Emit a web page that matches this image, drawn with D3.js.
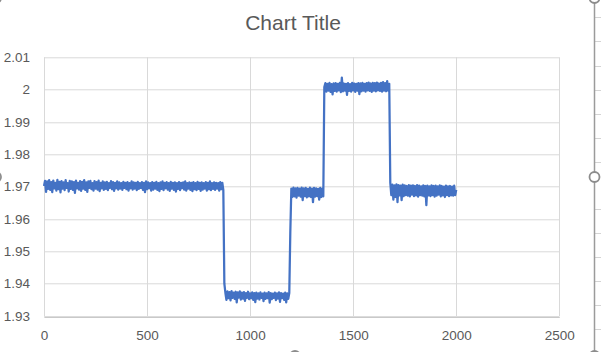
<!DOCTYPE html>
<html>
<head>
<meta charset="utf-8">
<script src="https://cdn.jsdelivr.net/npm/d3@7"></script>
<style>
  body { margin: 0; background: #fff; }
  svg { display: block; font-family: "Liberation Sans", Arial, sans-serif; }
</style>
</head>
<body>
<svg id="chart" width="601" height="352"></svg>
<script>
// readings, sampled every 5 units along x
const sampleStep = 5;
const segmentStart = [0, 875, 1195, 1360, 1680];

const firstPlateau = [
  1.9702,1.9718,1.9684,1.9716,1.9693,1.9720,1.9690,1.9714,1.9683,1.9719,
  1.9695,1.9712,1.9688,1.9721,1.9692,1.9715,1.9682,1.9717,1.9694,1.9713,
  1.9689,1.9720,1.9696,1.9711,1.9685,1.9718,1.9693,1.9716,1.9690,1.9714,
  1.9681,1.9719,1.9695,1.9712,1.9691,1.9717,1.9687,1.9715,1.9694,1.9720,
  1.9690,1.9713,1.9684,1.9716,1.9696,1.9718,1.9692,1.9711,1.9688,1.9717,
  1.9694,1.9714,1.9691,1.9719,1.9686,1.9712,1.9695,1.9716,1.9690,1.9713,
  1.9693,1.9715,1.9689,1.9711,1.9696,1.9717,1.9692,1.9714,1.9687,1.9712,
  1.9695,1.9716,1.9691,1.9713,1.9694,1.9711,1.9690,1.9715,1.9696,1.9712,
  1.9692,1.9714,1.9688,1.9711,1.9695,1.9716,1.9691,1.9713,1.9694,1.9712,
  1.9689,1.9715,1.9693,1.9711,1.9696,1.9714,1.9690,1.9712,1.9683,1.9716,
  1.9692,1.9713,1.9695,1.9711,1.9688,1.9714,1.9691,1.9712,1.9694,1.9715,
  1.9690,1.9711,1.9686,1.9713,1.9693,1.9716,1.9689,1.9712,1.9695,1.9714,
  1.9691,1.9711,1.9687,1.9715,1.9694,1.9712,1.9690,1.9713,1.9685,1.9711,
  1.9693,1.9714,1.9689,1.9712,1.9695,1.9713,1.9691,1.9716,1.9688,1.9711,
  1.9694,1.9713,1.9690,1.9712,1.9686,1.9714,1.9692,1.9711,1.9689,1.9715,
  1.9693,1.9712,1.9687,1.9713,1.9691,1.9711,1.9694,1.9714,1.9688,1.9712,
  1.9692,1.9716,1.9689,1.9711,1.9693,1.9713,1.9690,1.9712,1.9694,1.9711,
  1.9688,1.9714,1.9692,1.9712,1.9690
];

const lowPlateau = [
  1.9400,1.9372,1.9350,1.9376,1.9355,1.9374,1.9348,1.9377,1.9356,1.9372,
  1.9353,1.9375,1.9342,1.9373,1.9357,1.9376,1.9351,1.9372,1.9354,1.9374,
  1.9347,1.9371,1.9356,1.9375,1.9352,1.9370,1.9355,1.9373,1.9350,1.9371,
  1.9343,1.9372,1.9354,1.9370,1.9351,1.9373,1.9356,1.9369,1.9346,1.9372,
  1.9353,1.9370,1.9355,1.9374,1.9341,1.9371,1.9352,1.9369,1.9356,1.9372,
  1.9349,1.9370,1.9354,1.9373,1.9344,1.9371,1.9355,1.9369,1.9350,1.9372,
  1.9342,1.9370,1.9353,1.9371
];

const middlePlateau = [
  1.9560,1.9694,1.9668,1.9697,1.9670,1.9695,1.9666,1.9696,1.9672,1.9694,
  1.9669,1.9697,1.9658,1.9695,1.9671,1.9696,1.9667,1.9693,1.9670,1.9697,
  1.9668,1.9694,1.9652,1.9696,1.9669,1.9695,1.9671,1.9693,1.9660,1.9696,
  1.9668,1.9694,1.9670
];

const highPlateau = [
  2.0008,2.0020,1.9994,2.0018,1.9997,2.0021,1.9993,2.0017,1.9985,2.0019,
  1.9996,2.0020,1.9994,2.0018,1.9998,2.0021,1.9992,2.0037,1.9995,2.0019,
  1.9997,2.0018,1.9984,2.0020,1.9996,2.0017,1.9994,2.0021,1.9998,2.0019,
  1.9993,2.0018,1.9997,2.0020,1.9986,2.0019,1.9995,2.0021,1.9997,2.0018,
  1.9994,2.0020,1.9998,2.0022,1.9996,2.0019,1.9993,2.0021,1.9997,2.0020,
  1.9995,2.0022,1.9998,2.0019,1.9996,2.0021,1.9994,2.0023,1.9997,2.0020,
  1.9995,2.0026,1.9997,2.0018
];

const lastPlateau = [
  1.9712,1.9674,1.9706,1.9660,1.9704,1.9668,1.9707,1.9652,1.9705,1.9673,
  1.9703,1.9658,1.9706,1.9671,1.9704,1.9674,1.9702,1.9672,1.9705,1.9670,
  1.9703,1.9675,1.9704,1.9671,1.9702,1.9673,1.9705,1.9669,1.9703,1.9674,
  1.9701,1.9672,1.9704,1.9670,1.9702,1.9643,1.9703,1.9673,1.9701,1.9671,
  1.9704,1.9674,1.9702,1.9669,1.9703,1.9672,1.9701,1.9675,1.9704,1.9670,
  1.9702,1.9673,1.9700,1.9668,1.9703,1.9674,1.9701,1.9671,1.9702,1.9673,
  1.9700,1.9672,1.9703,1.9674,1.9690
];

const xTicks = [0, 500, 1000, 1500, 2000, 2500];
const yTicks = [1.93, 1.94, 1.95, 1.96, 1.97, 1.98, 1.99, 2.00, 2.01];
const chartTitle = 'Chart Title';

const MARGIN = { LEFT: 44, TOP: 57.3, RIGHT: 41.7, BOTTOM: 36 };
const WIDTH = 601, HEIGHT = 352;
const INNER_WIDTH = WIDTH - MARGIN.LEFT - MARGIN.RIGHT;
const INNER_HEIGHT = HEIGHT - MARGIN.TOP - MARGIN.BOTTOM;

const points = [firstPlateau, lowPlateau, middlePlateau, highPlateau, lastPlateau]
  .flatMap((seg, s) => seg.map((v, i) => ({ x: segmentStart[s] + i * sampleStep, y: v })));

const svg = d3.select('#chart');

const xScale = d3.scaleLinear().domain([0, 2500]).range([0, INNER_WIDTH]);
const yScale = d3.scaleLinear().domain([1.93, 2.01]).range([INNER_HEIGHT, 0]);

svg.append('text')
  .attr('x', 293)
  .attr('y', 30)
  .attr('text-anchor', 'middle')
  .attr('fill', '#595959')
  .style('font-size', '21px')
  .text(chartTitle);

const chart = svg.append('g')
  .attr('transform', `translate(${MARGIN.LEFT}, ${MARGIN.TOP})`);

// gridlines
chart.append('g')
  .selectAll('line')
  .data(yTicks)
  .join('line')
  .attr('x1', 0).attr('x2', INNER_WIDTH)
  .attr('y1', d => Math.round(yScale(d)) + 0.5)
  .attr('y2', d => Math.round(yScale(d)) + 0.5)
  .attr('stroke', '#d9d9d9');

chart.append('g')
  .selectAll('line')
  .data(xTicks)
  .join('line')
  .attr('x1', d => Math.round(xScale(d)) + 0.5)
  .attr('x2', d => Math.round(xScale(d)) + 0.5)
  .attr('y1', 0).attr('y2', INNER_HEIGHT)
  .attr('stroke', '#d9d9d9');

// axes
const xAxis = d3.axisBottom(xScale).tickValues(xTicks).tickSize(0).tickPadding(14)
  .tickFormat(d3.format('d'));
const yAxis = d3.axisLeft(yScale).tickValues(yTicks).tickSize(0).tickPadding(14)
  .tickFormat(d => String(+d.toFixed(2)));

const gx = chart.append('g')
  .attr('transform', `translate(0, ${Math.round(INNER_HEIGHT) + 0.5})`)
  .call(xAxis);
gx.select('.domain').attr('stroke', '#bfbfbf');

const gy = chart.append('g').call(yAxis);
gy.select('.domain').remove();

[gx, gy].forEach(g => g.selectAll('text')
  .attr('fill', '#595959')
  .style('font-size', '13.5px')
  .style('font-family', '"Liberation Sans", Arial, sans-serif'));

// series
const line = d3.line()
  .x(d => xScale(d.x))
  .y(d => yScale(d.y));

chart.append('path')
  .datum(points)
  .attr('d', line)
  .attr('fill', 'none')
  .attr('stroke', '#4472c4')
  .attr('stroke-width', 2.25)
  .attr('stroke-linejoin', 'round');

// selection frame of the chart object
const frameX = 594.5;
const rowLines = [17, 41, 66, 90, 114, 138, 162, 209, 233, 257, 281, 305, 329];
svg.append('g')
  .selectAll('line')
  .data(rowLines)
  .join('line')
  .attr('x1', frameX).attr('x2', WIDTH)
  .attr('y1', d => d + 0.5).attr('y2', d => d + 0.5)
  .attr('stroke', '#d4d4d4');

svg.append('line')
  .attr('x1', frameX).attr('x2', frameX)
  .attr('y1', 0).attr('y2', HEIGHT)
  .attr('stroke', '#9b9b9b')
  .attr('stroke-width', 1.5);

const handles = [[frameX, -2], [frameX, 177], [frameX, 356], [295, 356], [-4, 177], [-4, -2]];
svg.append('g')
  .selectAll('circle')
  .data(handles)
  .join('circle')
  .attr('cx', d => d[0])
  .attr('cy', d => d[1])
  .attr('r', 5)
  .attr('fill', '#fff')
  .attr('stroke', '#8c8c8c')
  .attr('stroke-width', 1.8);
</script>
</body>
</html>
